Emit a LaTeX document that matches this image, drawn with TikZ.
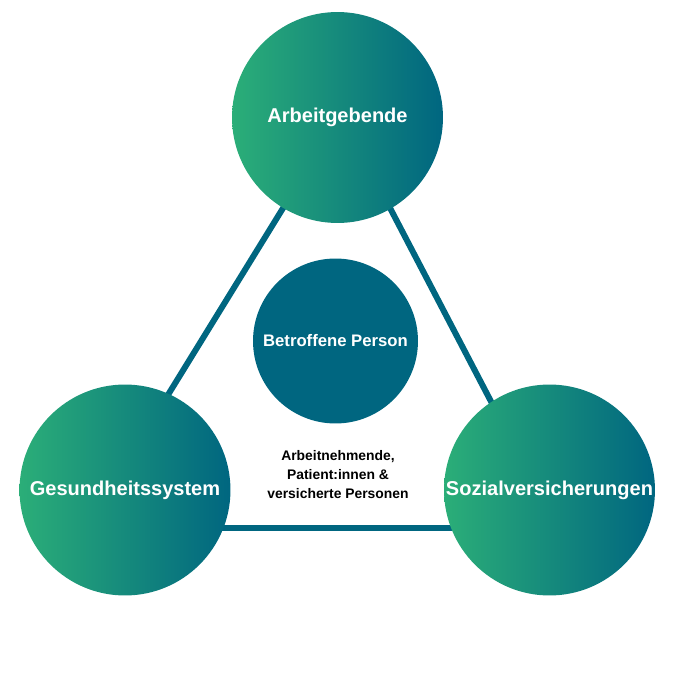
\documentclass[tikz,border=0pt]{standalone}
\usepackage{fontspec}
\setmainfont{Liberation Sans}
\definecolor{petrol}{HTML}{006680}
\definecolor{mint}{HTML}{2BAE78}

\begin{document}
\begin{tikzpicture}[x = 0.02cm, y = -0.02cm,
  party/.style = {circle, inner sep = 0pt, minimum size = 4.22cm,
    left color = mint, right color = petrol, text = white,
    font = \fontsize{11.4}{13}\selectfont\bfseries},
  link/.style = {draw = petrol, line width = 3.4pt}]
\useasboundingbox (0, 0) rectangle (700, 700);
\coordinate (top) at (341, 114);
\coordinate (botleft) at (86, 528);
\coordinate (botright) at (557, 528);
\draw[link] (top) -- (botleft) -- (botright) -- cycle;
\node[party] (arbeit) at (337.5, 117.5) {Arbeitgebende};
\node[party] (gesund) at (125, 490) {Gesundheitssystem};
\node[party] (sozial) at (549.5, 490) {Sozialversicherungen};
\node[circle, fill = petrol, inner sep = 0pt, minimum size = 3.3cm, text = white,
  font = \fontsize{9.5}{11}\selectfont\bfseries] (person) at (335.5, 341) {Betroffene Person};
\node[align = center, font = \fontsize{7.9}{10.8}\selectfont\bfseries] (who) at (338, 475)
  {Arbeitnehmende,\\ Patient:innen \&\\ versicherte Personen};
\end{tikzpicture}
\end{document}
